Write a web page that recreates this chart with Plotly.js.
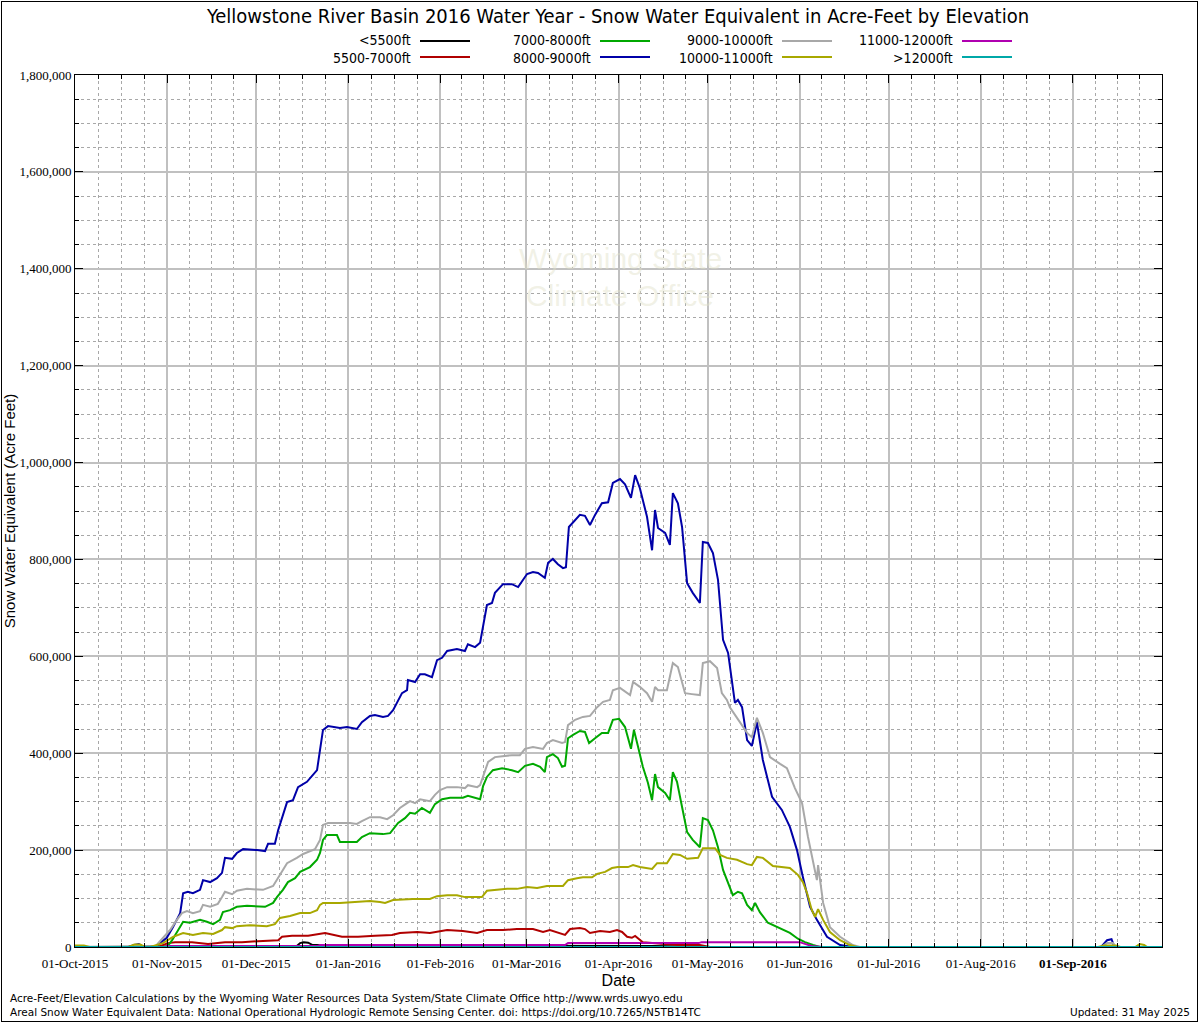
<!DOCTYPE html>
<html>
<head>
<meta charset="utf-8">
<script src="https://cdn.plot.ly/plotly-3.0.1.min.js"></script>
<style>
  html, body { margin: 0; padding: 0; background: #fff; }
  #chart { width: 1200px; height: 1024px; position: absolute; left: 0; top: 0; }
  #frame { position: absolute; left: 1px; top: 1px; width: 1197px; height: 1021px; border: 1px solid #000; box-sizing: border-box; pointer-events: none; }
</style>
</head>
<body>
<div id="chart"></div>
<div id="frame"></div>
<script>
// ---------------- DATA ----------------
// Day of water year (0 = 01-Oct-2015) and snow water equivalent in thousands of acre-feet.
const seriesNames = ['<5500ft', '5500-7000ft', '7000-8000ft', '8000-9000ft', '9000-10000ft', '10000-11000ft', '11000-12000ft', '>12000ft'];
const seriesColors = ['#000000', '#b00000', '#00a800', '#0000a8', '#a8a8a8', '#a8a800', '#b000b0', '#00a8a8'];

const daysBelow5500 = [0, 30, 32, 70, 74.7, 75.8, 77, 78.5, 80, 100, 140, 170, 190, 195, 205, 210, 366];
const kafBelow5500  = [0, 0, 1, 2, 2, 8, 10, 9, 4, 3, 3, 3, 3, 2, 1, 0, 0];

const days5500_7000 = [0, 27.9, 31.3, 33.7, 39.4, 44.8, 50.5, 56.2, 61.6, 68.4, 69.7, 73.1, 78.5, 81.8, 84.2, 89.9, 95.3, 101.0, 106.7, 109.4, 115.2, 119.5, 125.3, 130.6, 135.4, 138.7, 144.1, 148.8, 154.2, 157.6, 159.9, 165.0, 166.7, 170.0, 171.7, 173.4, 176.8, 180.1, 182.5, 184.2, 185.9, 187.5, 188.6, 191.2, 196.0, 202.7, 210.4, 213.8, 366];
const kaf5500_7000  = [0, 0, 8, 10, 10, 6, 10, 10, 12, 14, 21, 23, 23, 27, 29, 21, 21, 23, 25, 29, 31, 29, 35, 33, 29, 35, 35, 37, 37, 31, 35, 25, 37, 39, 37, 29, 33, 31, 35, 31, 21, 19, 23, 10, 8, 4, 4, 0, 0];

const days7000_8000 = [0, 31.0, 32.7, 34.7, 36.4, 38.7, 42.1, 44.4, 46.5, 48.8, 49.8, 52.2, 54.5, 57.9, 64.0, 66.7, 68.0, 70.0, 71.7, 74.1, 75.8, 79.1, 81.5, 82.5, 83.5, 84.8, 88.2, 89.2, 94.9, 96.6, 99.3, 103.7, 106.1, 108.8, 111.1, 112.8, 114.5, 116.8, 119.5, 121.2, 123.6, 126.3, 130.6, 132.3, 136.4, 137.4, 138.7, 140.7, 143.8, 147.1, 149.2, 151.5, 154.2, 156.6, 158.2, 158.9, 160.9, 162.6, 164.0, 165.0, 166.0, 167.7, 170.0, 171.7, 173.1, 175.1, 177.4, 179.5, 181.1, 183.2, 185.2, 187.2, 188.2, 189.6, 191.2, 192.9, 194.3, 195.3, 196.3, 198.7, 200.3, 201.3, 202.7, 204.4, 206.1, 208.0, 210.4, 211.4, 213.1, 214.8, 216.5, 218.2, 220.5, 221.5, 223.2, 224.6, 226.3, 227.9, 229.0, 230.6, 233.3, 237.4, 240.7, 243.4, 245.8, 248.5, 250.8, 366];
const kaf7000_8000  = [0, 0, 14, 35, 52, 50, 56, 52, 47, 56, 72, 76, 83, 85, 83, 91, 103, 118, 134, 142, 155, 165, 180, 194, 221, 231, 231, 217, 217, 227, 235, 233, 235, 256, 266, 277, 275, 287, 277, 295, 305, 308, 308, 312, 305, 332, 351, 365, 369, 365, 361, 374, 378, 372, 361, 392, 398, 390, 372, 374, 431, 438, 446, 444, 421, 431, 442, 442, 469, 471, 454, 409, 448, 413, 372, 339, 303, 357, 330, 318, 303, 361, 341, 289, 237, 221, 206, 266, 262, 241, 206, 159, 124, 107, 114, 111, 87, 76, 91, 72, 50, 39, 29, 17, 10, 4, 0, 0];

const days8000_9000 = [0, 18, 20, 21.5, 23, 27, 28.6, 30.9, 33.0, 35.4, 36.4, 38.0, 39.7, 42.1, 43.1, 45.5, 47.8, 49.5, 50.5, 52.9, 54.5, 56.6, 61.3, 64.0, 65.0, 67.3, 68.4, 69.7, 71.4, 73.4, 75.1, 78.1, 81.5, 82.5, 83.5, 85.2, 89.2, 91.6, 94.9, 96.6, 99.3, 101.0, 103.7, 105.4, 107.1, 110.1, 111.8, 112.1, 114.5, 116.2, 117.8, 120.2, 121.9, 123.6, 125.3, 128.6, 131.3, 132.3, 134.7, 136.4, 137.4, 138.7, 140.4, 141.4, 144.1, 147.1, 149.2, 152.2, 154.2, 155.9, 158.2, 159.3, 160.9, 162.6, 164.3, 165.3, 166.3, 167.7, 170.0, 171.7, 173.4, 175.1, 177.4, 179.5, 181.1, 183.5, 185.2, 187.2, 188.6, 190.2, 192.6, 194.3, 195.3, 196.3, 198.7, 200.3, 201.3, 203.0, 204.4, 206.1, 208.0, 210.4, 211.4, 213.1, 214.8, 216.5, 218.2, 219.9, 221.5, 222.2, 223.2, 224.6, 226.3, 227.9, 229.6, 231.6, 234.7, 238.0, 240.7, 243.1, 245.1, 247.5, 249.8, 253.2, 257.6, 261.9, 345.5, 347.5, 349, 350, 366];
const kaf8000_9000  = [0, 0, 4, 6, 0, 0, 8, 19, 41, 70, 111, 114, 111, 118, 138, 134, 142, 153, 184, 182, 194, 202, 200, 198, 213, 213, 241, 268, 299, 303, 330, 341, 365, 407, 448, 456, 452, 454, 450, 464, 477, 479, 475, 477, 489, 524, 530, 551, 547, 563, 563, 557, 592, 597, 611, 615, 611, 625, 619, 628, 661, 706, 710, 731, 749, 749, 743, 770, 774, 772, 762, 793, 801, 790, 782, 784, 867, 877, 892, 890, 871, 892, 916, 918, 958, 966, 955, 927, 974, 947, 888, 819, 902, 865, 855, 830, 937, 916, 867, 751, 731, 710, 836, 834, 813, 758, 634, 607, 537, 504, 510, 495, 427, 415, 464, 386, 310, 283, 248, 200, 144, 83, 56, 21, 4, 0, 0, 14, 16, 0, 0];

const days9000_10000 = [0, 19, 21, 23, 26.9, 32.0, 34.3, 36.0, 37.7, 39.7, 42.1, 43.1, 45.5, 48.1, 49.5, 50.5, 52.9, 54.5, 57.9, 63.3, 66.7, 68.4, 69.7, 71.4, 74.7, 76.8, 80.8, 82.5, 83.5, 85.2, 92.6, 94.9, 96.6, 99.3, 102.7, 105.1, 107.1, 109.4, 111.8, 112.8, 114.5, 116.2, 119.5, 121.2, 122.9, 125.3, 128.6, 131.3, 132.3, 135.4, 136.4, 138.0, 139.1, 141.4, 143.8, 147.1, 149.8, 151.5, 154.2, 157.6, 158.9, 160.9, 164.0, 165.0, 166.0, 168.4, 171.0, 173.4, 175.8, 177.8, 180.1, 181.1, 183.5, 186.9, 187.9, 190.2, 192.6, 194.3, 195.3, 196.3, 199.3, 201.3, 203.0, 205.4, 207.7, 210.4, 211.4, 213.8, 216.2, 217.8, 219.5, 220.5, 222.9, 226.3, 227.9, 229.6, 231.6, 234.0, 237.4, 239.7, 242.4, 244.8, 246.8, 249.2, 249.8, 250.2, 251.9, 254.2, 257.6, 261.9, 264.3, 345.5, 347.5, 349.5, 350.5, 366];
const kaf9000_10000  = [0, 0, 4, 0, 0, 35, 56, 70, 74, 70, 74, 87, 83, 89, 103, 114, 109, 116, 120, 118, 126, 142, 155, 173, 184, 192, 202, 221, 252, 256, 256, 254, 260, 268, 268, 264, 272, 287, 297, 301, 297, 305, 301, 314, 324, 330, 330, 328, 334, 330, 334, 361, 382, 392, 394, 396, 396, 409, 413, 409, 421, 427, 421, 423, 458, 469, 475, 477, 495, 506, 510, 530, 535, 520, 547, 537, 524, 506, 537, 530, 530, 586, 578, 524, 522, 520, 586, 590, 576, 524, 510, 495, 473, 442, 433, 473, 442, 392, 378, 369, 328, 297, 227, 153, 138, 169, 91, 41, 21, 4, 0, 0, 8, 8, 0, 0];

const days10000_11000 = [0, 3, 5, 18, 20, 22, 23.5, 25.3, 29.6, 33.0, 36.4, 39.7, 43.1, 46.5, 49.5, 50.5, 52.9, 54.5, 58.9, 64.6, 67.3, 69.0, 72.4, 75.8, 79.1, 81.5, 82.5, 83.5, 89.2, 94.9, 99.3, 102.7, 104.4, 107.1, 111.8, 113.8, 119.5, 121.9, 125.3, 128.6, 131.3, 137.0, 138.7, 141.4, 145.5, 148.8, 152.2, 155.6, 158.9, 164.3, 166.0, 169.0, 171.0, 174.1, 175.8, 178.5, 180.8, 182.8, 186.2, 187.9, 190.2, 194.3, 196.0, 199.3, 201.3, 203.7, 206.1, 209.8, 211.4, 215.5, 217.2, 219.5, 222.9, 226.3, 227.9, 229.6, 231.6, 235.0, 238.0, 240.7, 243.4, 245.1, 246.5, 248.1, 249.2, 250.2, 251.9, 254.2, 257.6, 260.9, 263.3, 344.5, 346.5, 350.5, 352, 357, 358.5, 360, 361, 366];
const kaf10000_11000  = [3, 3, 0, 0, 5, 5, 0, 0, 8, 21, 29, 25, 29, 27, 35, 41, 39, 43, 45, 43, 47, 60, 64, 70, 70, 76, 87, 91, 91, 93, 95, 93, 91, 97, 99, 99, 99, 105, 107, 107, 103, 103, 116, 118, 120, 120, 124, 122, 126, 126, 138, 142, 144, 144, 151, 155, 163, 165, 165, 169, 165, 161, 173, 173, 192, 190, 182, 184, 204, 204, 190, 184, 180, 171, 169, 186, 184, 167, 165, 163, 149, 134, 111, 76, 62, 78, 56, 31, 14, 4, 0, 0, 3, 3, 0, 0, 6, 4, 0, 0];

const days11000_12000 = [0, 30, 31.3, 81.8, 82.5, 165, 166, 210, 211, 244, 246, 248, 252, 366];
const kaf11000_12000  = [0, 0, 2, 2, 4, 4, 8, 8, 10, 10, 6, 2, 0, 0];

const daysAbove12000 = [0, 366];
const kafAbove12000  = [0, 0];

// Axis tick positions / labels
const monthTicks = ['2015-10-01', '2015-11-01', '2015-12-01', '2016-01-01', '2016-02-01', '2016-03-01', '2016-04-01', '2016-05-01', '2016-06-01', '2016-07-01', '2016-08-01', '2016-09-01'];
const monthLabels = ['01-Oct-2015', '01-Nov-2015', '01-Dec-2015', '01-Jan-2016', '01-Feb-2016', '01-Mar-2016', '01-Apr-2016', '01-May-2016', '01-Jun-2016', '01-Jul-2016', '01-Aug-2016', '<b>01-Sep-2016</b>'];
const xRange = ['2015-10-01', '2016-10-01'];
const yRange = [0, 1800000];

// ---------------- BUILD ----------------
const allDays = [daysBelow5500, days5500_7000, days7000_8000, days8000_9000, days9000_10000, days10000_11000, days11000_12000, daysAbove12000];
const allKaf  = [kafBelow5500, kaf5500_7000, kaf7000_8000, kaf8000_9000, kaf9000_10000, kaf10000_11000, kaf11000_12000, kafAbove12000];

const BASE = Date.UTC(2015, 9, 1);
function dayToDate(d) {
  return new Date(BASE + d * 86400000).toISOString().slice(0, 19).replace('T', ' ');
}

const traces = seriesNames.map((name, i) => ({
  type: 'scatter',
  mode: 'lines',
  name: name,
  x: allDays[i].map(dayToDate),
  y: allKaf[i].map(v => v * 1000),
  line: { color: seriesColors[i], width: 2 },
  showlegend: false,
  hoverinfo: 'x+y+name'
}));

// minor ticks: each month split in quarters
const monthEdges = monthTicks.concat([xRange[1]]);
const minorTicks = [];
for (let i = 0; i < monthEdges.length - 1; i++) {
  const a = Date.parse(monthEdges[i] + 'T00:00:00Z');
  const b = Date.parse(monthEdges[i + 1] + 'T00:00:00Z');
  for (let q = 1; q < 4; q++) {
    minorTicks.push(new Date(a + (b - a) * q / 4).toISOString().slice(0, 19).replace('T', ' '));
  }
}

// Plot-area geometry for paper-coordinate placements
const W = 1200, H = 1024, L = 75, R = 38, T = 75, B = 77;
const PW = W - L - R, PH = H - T - B;
const px = x => (x - L) / PW;
const py = y => (H - B - y) / PH;

const condensed = 'DejaVu Sans Condensed, Liberation Sans Narrow, Arial Narrow, sans-serif';
const legendFont = { family: condensed, size: 14, color: '#000' };
const legendTextRight = [413, 593, 775, 955];
const legendRowY = [41, 57];
const esc = s => s.replace('<', '&lt;').replace('>', '&gt;');
const annotations = [];
const shapes = [];
for (let col = 0; col < 4; col++) {
  annotations.push({
    xref: 'paper', yref: 'paper', x: px(legendTextRight[col]), y: py(49),
    xanchor: 'right', yanchor: 'middle', align: 'right',
    text: esc(seriesNames[2 * col]) + '<br>' + esc(seriesNames[2 * col + 1]),
    showarrow: false, font: legendFont
  });
}
seriesNames.forEach((name, i) => {
  const col = Math.floor(i / 2), row = i % 2;
  shapes.push({
    type: 'line', xref: 'paper', yref: 'paper',
    x0: px(legendTextRight[col] + 7), x1: px(legendTextRight[col] + 57),
    y0: py(legendRowY[row]), y1: py(legendRowY[row]),
    line: { color: seriesColors[i], width: 2 }
  });
});

// Footer texts
const footFont = { family: 'DejaVu Sans, sans-serif', size: 10.5, color: '#000' };
annotations.push({ xref: 'paper', yref: 'paper', x: px(8), y: py(998), xanchor: 'left', yanchor: 'middle', showarrow: false, font: footFont,
  text: 'Acre-Feet/Elevation Calculations by the Wyoming Water Resources Data System/State Climate Office http://www.wrds.uwyo.edu' });
annotations.push({ xref: 'paper', yref: 'paper', x: px(8), y: py(1012), xanchor: 'left', yanchor: 'middle', showarrow: false, font: footFont,
  text: 'Areal Snow Water Equivalent Data: National Operational Hydrologic Remote Sensing Center. doi: https://doi.org/10.7265/N5TB14TC' });
annotations.push({ xref: 'paper', yref: 'paper', x: px(1192), y: py(1012), xanchor: 'right', yanchor: 'middle', showarrow: false, font: footFont,
  text: 'Updated: 31 May 2025' });

// Faint watermark text
annotations.push({ xref: 'paper', yref: 'paper', x: px(620), y: py(258), xanchor: 'center', yanchor: 'middle', showarrow: false,
  font: { family: 'Liberation Sans, sans-serif', size: 30, color: 'rgba(225,225,200,0.45)' }, text: 'Wyoming State' });
annotations.push({ xref: 'paper', yref: 'paper', x: px(620), y: py(295), xanchor: 'center', yanchor: 'middle', showarrow: false,
  font: { family: 'Liberation Sans, sans-serif', size: 30, color: 'rgba(225,225,200,0.45)' }, text: 'Climate Office' });

const serif = 'Liberation Serif, DejaVu Serif, serif';

const layout = {
  width: W, height: H,
  margin: { l: L, r: R, t: T, b: B, pad: 0 },
  paper_bgcolor: '#ffffff', plot_bgcolor: '#ffffff',
  showlegend: false,
  title: {
    text: 'Yellowstone River Basin 2016 Water Year - Snow Water Equivalent in Acre-Feet by Elevation',
    x: 0.515, xanchor: 'center', y: 1 - 16 / H, yanchor: 'middle',
    font: { family: condensed, size: 20, color: '#000' }
  },
  xaxis: {
    type: 'date', range: xRange, tickmode: 'array', tickvals: monthTicks, ticktext: monthLabels,
    ticks: 'inside', ticklen: 8, tickcolor: '#000', tickwidth: 1, ticklabelstandoff: 4,
    showline: true, linecolor: '#000', linewidth: 1, mirror: 'allticks',
    showgrid: true, gridcolor: '#c0c0c0', gridwidth: 2, zeroline: false,
    tickfont: { family: serif, size: 13, color: '#000' },
    minor: { tickmode: 'array', tickvals: minorTicks, ticks: 'inside', ticklen: 4, tickcolor: '#000',
             showgrid: true, gridcolor: '#a8a8a8', gridwidth: 1, griddash: 'dot' },
    title: { text: 'Date', font: { family: 'Liberation Sans, sans-serif', size: 16, color: '#000' }, standoff: 5 },
    automargin: false
  },
  yaxis: {
    range: yRange, tickmode: 'linear', tick0: 0, dtick: 200000, tickformat: ',d',
    ticks: 'inside', ticklen: 8, tickcolor: '#000', tickwidth: 1,
    showline: true, linecolor: '#000', linewidth: 1, mirror: 'allticks',
    showgrid: true, gridcolor: '#c0c0c0', gridwidth: 2, zeroline: false,
    tickfont: { family: serif, size: 13, color: '#000' },
    minor: { tickmode: 'linear', tick0: 0, dtick: 50000, ticks: 'inside', ticklen: 4, tickcolor: '#000',
             showgrid: true, gridcolor: '#a8a8a8', gridwidth: 1, griddash: 'dot' },
    title: { text: 'Snow Water Equivalent (Acre Feet)', font: { family: 'Liberation Sans, sans-serif', size: 15, color: '#000' }, standoff: 0 },
    automargin: false
  },
  separators: '.,',
  annotations: annotations,
  shapes: shapes
};

Plotly.newPlot('chart', traces, layout, { staticPlot: true, displayModeBar: false });
</script>
</body>
</html>
